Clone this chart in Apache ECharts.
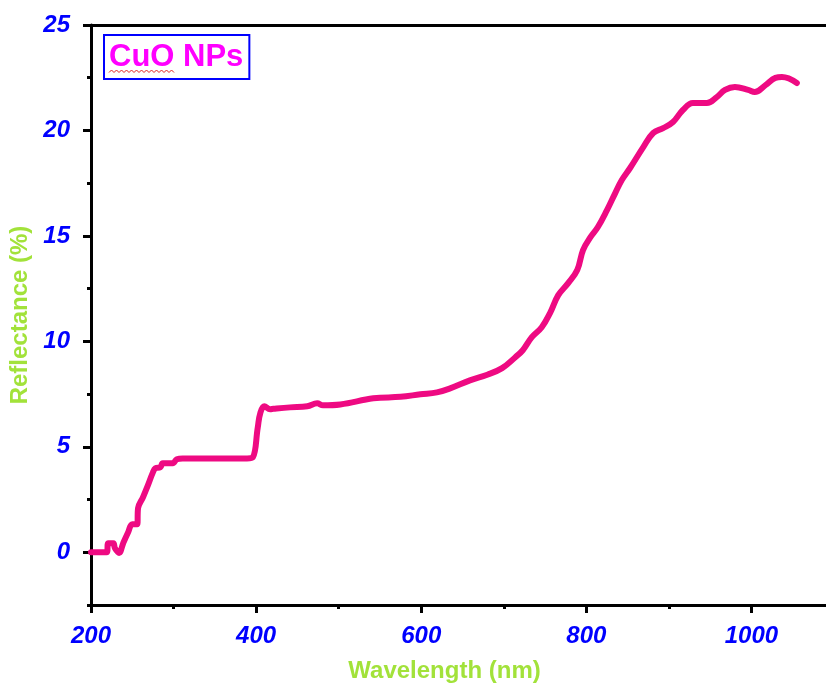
<!DOCTYPE html>
<html>
<head>
<meta charset="utf-8">
<script src="https://cdn.jsdelivr.net/npm/echarts@6/dist/echarts.min.js"></script>
<style>
html,body{margin:0;padding:0;background:#fff;}
#main{width:826px;height:684px;}
</style>
</head>
<body>
<div id="main"></div>
<script>
// wavelength (nm) and reflectance (%)
var wavelength = [200, 219, 221, 227, 229, 234, 239, 245, 250, 256, 257, 263, 269, 275, 278, 284, 287, 299, 304, 311,
	389, 396, 402, 405, 410, 417, 421, 441, 462, 474, 481, 502, 542, 575, 599, 619, 635, 659, 680, 698,
	714, 723, 734, 746, 756, 766, 778, 789, 796, 805, 814, 825, 835, 843, 853, 869, 881, 893, 905, 917,
	929, 946, 958, 968, 980, 996, 1004, 1017, 1029, 1037, 1055];
var reflectance = [0, 0, 0.43, 0.43, 0.19, -0.03, 0.43, 0.95, 1.33, 1.33, 2.09, 2.61, 3.18, 3.79, 3.98, 4.03, 4.22, 4.22, 4.41, 4.45,
	4.45, 4.5, 5.92, 6.59, 6.92, 6.78, 6.8, 6.87, 6.92, 7.06, 6.97, 7.01, 7.30, 7.37, 7.49, 7.58, 7.77, 8.15, 8.42, 8.73,
	9.25, 9.58, 10.2, 10.67, 11.34, 12.19, 12.76, 13.38, 14.33, 14.94, 15.42, 16.22, 17.03, 17.65, 18.22, 19.21, 19.88, 20.11, 20.4, 20.97,
	21.3, 21.3, 21.58, 21.92, 22.06, 21.92, 21.82, 22.15, 22.49, 22.53, 22.25];
var xMajor = [200, 400, 600, 800, 1000];
var xMinor = [300, 500, 700, 900];
var yMajor = [0, 5, 10, 15, 20, 25];
var yMinor = [-2.5, 2.5, 7.5, 12.5, 17.5, 22.5];
var seriesName = 'CuO NPs';

var points = [];
for (var i = 0; i < wavelength.length; i++) {
	points.push([wavelength[i], reflectance[i]]);
}

var myChart = echarts.init(document.getElementById('main'));

var tickLabel = {
	color: '#0000ff',
	fontFamily: 'Liberation Sans',
	fontWeight: 'bold',
	fontStyle: 'italic',
	fontSize: 24,
	formatter: function (v) { return String(v); }
};
var axisLineStyle = {color: '#000', width: 3};
var titleStyle = {
	color: '#a2e23a',
	fontFamily: 'Liberation Sans',
	fontWeight: 'bold',
	fontSize: 24
};

// red spell-check squiggle under "CuO"
var squiggle = [];
for (var s = 0; s <= 26; s++) {
	squiggle.push([109 + s * 2.5, s % 2 ? 70 : 72.5]);
}

option = {
	backgroundColor: '#fff',
	animation: false,
	grid: [
		{left: 91, top: 25, width: 743, height: 580, show: false, outerBoundsMode: 'none', containLabel: false},
		{left: 91, top: 25, width: 743, height: 580, show: false, outerBoundsMode: 'none', containLabel: false}
	],
	legend: {
		left: 104,
		top: 35,
		icon: 'none',
		itemWidth: 0,
		itemHeight: 0,
		selectedMode: false,
		borderColor: '#0000ff',
		borderWidth: 2,
		padding: [7, 6, 6, 0],
		textStyle: {color: '#ff00ff', fontFamily: 'Liberation Sans', fontWeight: 'bold', fontSize: 31},
		data: [seriesName]
	},
	xAxis: [
		{
			type: 'value', gridIndex: 0, position: 'bottom', min: 200, max: 1100,
			axisLine: {onZero: false, lineStyle: axisLineStyle},
			axisTick: {customValues: xMajor, length: 8, lineStyle: {color: '#000', width: 3}},
			axisLabel: Object.assign({customValues: xMajor, margin: 19}, tickLabel),
			splitLine: {show: false},
			name: 'Wavelength (nm)',
			nameLocation: 'middle',
			nameGap: 54,
			nameTextStyle: Object.assign({padding: [0, 36, 0, 0]}, titleStyle)
		},
		{
			type: 'value', gridIndex: 1, position: 'bottom', min: 200, max: 1100,
			axisLine: {show: false, onZero: false},
			axisTick: {customValues: xMinor, length: 4, lineStyle: {color: '#000', width: 3}},
			axisLabel: {show: false},
			splitLine: {show: false}
		},
		{
			type: 'value', gridIndex: 1, position: 'top', min: 200, max: 1100,
			axisLine: {onZero: false, lineStyle: axisLineStyle},
			axisTick: {show: false},
			axisLabel: {show: false},
			splitLine: {show: false}
		}
	],
	yAxis: [
		{
			type: 'value', gridIndex: 0, position: 'left', min: -2.5, max: 25,
			axisLine: {onZero: false, lineStyle: axisLineStyle},
			axisTick: {customValues: yMajor, length: 8, lineStyle: {color: '#000', width: 3}},
			axisLabel: Object.assign({customValues: yMajor, margin: 21}, tickLabel),
			splitLine: {show: false},
			name: 'Reflectance (%)',
			nameLocation: 'middle',
			nameGap: 52,
			nameTextStyle: titleStyle
		},
		{
			type: 'value', gridIndex: 1, position: 'left', min: -2.5, max: 25,
			axisLine: {show: false, onZero: false},
			axisTick: {customValues: yMinor, length: 4, lineStyle: {color: '#000', width: 3}},
			axisLabel: {show: false},
			splitLine: {show: false}
		}
	],
	series: [{
		name: seriesName,
		type: 'line',
		xAxisIndex: 0,
		yAxisIndex: 0,
		data: points,
		showSymbol: false,
		smooth: 0.4,
		lineStyle: {color: '#ee0a82', width: 6, cap: 'round', join: 'round'},
		itemStyle: {color: '#ee0a82'}
	}],
	graphic: [{
		type: 'polyline',
		shape: {points: squiggle},
		style: {stroke: '#e02020', lineWidth: 1, fill: null},
		z: 100
	}]
};

myChart.setOption(option);
</script>
</body>
</html>
